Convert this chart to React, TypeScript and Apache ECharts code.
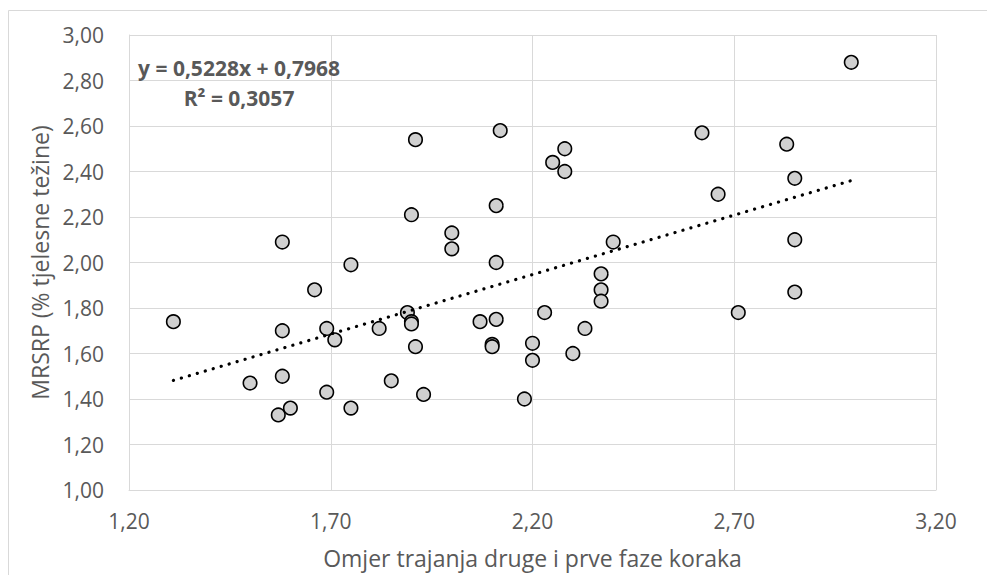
import React, { useEffect, useRef } from "react";
import * as echarts from "echarts";

// Omjer trajanja druge i prve faze koraka (x) vs MRSRP (% tjelesne težine) (y)
const ratioValues: number[] = [
  1.31, 1.50, 1.57, 1.58, 1.58, 1.58, 1.60, 1.66, 1.69, 1.69, 1.71, 1.75, 1.75,
  1.82, 1.85, 1.89, 1.90, 1.90, 1.90, 1.91, 1.91, 1.93, 2.00, 2.00, 2.07, 2.10,
  2.10, 2.11, 2.11, 2.11, 2.12, 2.18, 2.20, 2.20, 2.23, 2.25, 2.28, 2.28, 2.30,
  2.33, 2.37, 2.37, 2.37, 2.40, 2.62, 2.66, 2.71, 2.83, 2.85, 2.85, 2.85, 2.99,
];
const mrsrpValues: number[] = [
  1.74, 1.47, 1.33, 2.09, 1.70, 1.50, 1.36, 1.88, 1.71, 1.43, 1.66, 1.99, 1.36,
  1.71, 1.48, 1.78, 1.74, 1.73, 2.21, 2.54, 1.63, 1.42, 2.13, 2.06, 1.74, 1.64,
  1.63, 1.75, 2.25, 2.00, 2.58, 1.40, 1.645, 1.57, 1.78, 2.44, 2.50, 2.40, 1.60,
  1.71, 1.95, 1.88, 1.83, 2.09, 2.57, 2.30, 1.78, 2.52, 2.37, 2.10, 1.87, 2.88,
];

const trendSlope = 0.5228;
const trendIntercept = 0.7968;
const equationLabel = "y = 0,5228x + 0,7968";
const r2Label = "R² = 0,3057";

const xAxisTitle = "Omjer trajanja druge i prve faze koraka";
const yAxisTitle = "MRSRP (% tjelesne težine)";
const xTicks = { min: 1.2, max: 3.2, interval: 0.5 };
const yTicks = { min: 1.0, max: 3.0, interval: 0.2 };

const FONT = "'Open Sans', sans-serif";
const GRAY = "#595959";
const GRID = "#d9d9d9";

const fmt = (v: number) => v.toFixed(2).replace(".", ",");

export default function App() {
  const ref = useRef<HTMLDivElement>(null);

  useEffect(() => {
    if (!ref.current) return;
    const chart = echarts.init(ref.current, null, { renderer: "svg" });

    const points = ratioValues.map((x, i) => [x, mrsrpValues[i]]);
    const xMin = Math.min(...ratioValues);
    const xMax = Math.max(...ratioValues);
    const trend = [
      [xMin, trendSlope * xMin + trendIntercept],
      [xMax, trendSlope * xMax + trendIntercept],
    ];

    chart.setOption({
      animation: false,
      backgroundColor: "#ffffff",
      textStyle: { fontFamily: FONT },
      grid: { left: 129, top: 35, right: 51, bottom: 85, containLabel: false },
      graphic: [
        {
          type: "rect",
          shape: { x: 8.5, y: 10.5, width: 1100, height: 700 },
          style: { fill: "none", stroke: GRID, lineWidth: 1 },
          silent: true,
          z: -10,
        },
        {
          type: "text",
          x: 239,
          y: 68,
          style: {
            text: equationLabel,
            fontFamily: FONT,
            fontSize: 21,
            fontWeight: "bold",
            fill: GRAY,
            align: "center",
            verticalAlign: "middle",
          },
          z: 100,
        },
        {
          type: "text",
          x: 239,
          y: 98,
          style: {
            text: r2Label,
            fontFamily: FONT,
            fontSize: 21,
            fontWeight: "bold",
            fill: GRAY,
            align: "center",
            verticalAlign: "middle",
          },
          z: 100,
        },
      ],
      xAxis: {
        type: "value",
        min: xTicks.min,
        max: xTicks.max,
        interval: xTicks.interval,
        name: xAxisTitle,
        nameLocation: "middle",
        nameGap: 56,
        nameTextStyle: { fontFamily: FONT, fontSize: 23, color: GRAY },
        axisLine: { show: true, lineStyle: { color: GRID, width: 1 } },
        axisTick: { show: false },
        axisLabel: {
          formatter: fmt,
          fontFamily: FONT,
          fontSize: 21,
          color: GRAY,
          margin: 20,
        },
        splitLine: { show: true, lineStyle: { color: GRID, width: 1 } },
      },
      yAxis: {
        type: "value",
        min: yTicks.min,
        max: yTicks.max,
        interval: yTicks.interval,
        name: yAxisTitle,
        nameLocation: "middle",
        nameGap: 75,
        nameRotate: 90,
        nameTextStyle: { fontFamily: FONT, fontSize: 23, color: GRAY },
        axisLine: { show: true, lineStyle: { color: GRID, width: 1 } },
        axisTick: { show: false },
        axisLabel: {
          formatter: fmt,
          fontFamily: FONT,
          fontSize: 21,
          color: GRAY,
          margin: 25,
        },
        splitLine: { show: true, lineStyle: { color: GRID, width: 1 } },
      },
      series: [
        {
          type: "line",
          data: trend,
          showSymbol: false,
          symbol: "none",
          lineStyle: {
            color: "#000000",
            width: 3.2,
            type: [0.1, 8.2],
            cap: "round",
          },
          z: 3,
          silent: true,
        },
        {
          type: "scatter",
          data: points,
          symbol: "circle",
          symbolSize: 13.5,
          itemStyle: {
            color: "#d0d0d0",
            borderColor: "#000000",
            borderWidth: 1.6,
            opacity: 1,
          },
          z: 2,
        },
      ],
    });

    return () => chart.dispose();
  }, []);

  return (
    <div
      ref={ref}
      style={{ position: "fixed", left: 0, top: 0, width: 987, height: 575 }}
    />
  );
}
